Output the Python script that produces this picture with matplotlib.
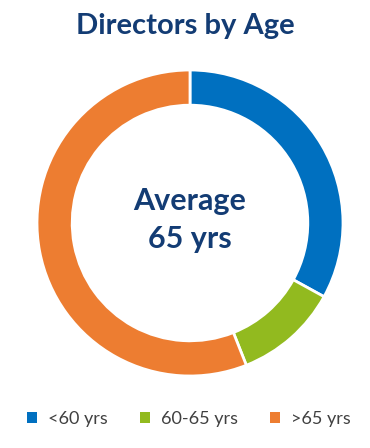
import matplotlib
matplotlib.use("Agg")
import matplotlib.pyplot as plt
from matplotlib.patches import Patch

labels = ["<60 yrs", "60-65 yrs", ">65 yrs"]
shares = [33, 11, 56]
colors = ["#0070C0", "#92BA1F", "#ED7D31"]
title = "Directors by Age"
center_text = "Average\n65 yrs"

plt.rcParams["font.family"] = ["Lato", "DejaVu Sans"]

fig = plt.figure(figsize=(3.7, 4.48), dpi=100)
ax = fig.add_axes([190/370 - 153/370, 1 - (223 + 153)/448, 306/370, 306/448])
ax.pie(shares, colors=colors, startangle=90, counterclock=False,
       wedgeprops=dict(width=0.23, edgecolor="white", linewidth=2))
ax.set_xlim(-1, 1)
ax.set_ylim(-1, 1)
ax.set_aspect("equal")
ax.text(0, 0.02, center_text, ha="center", va="center", fontsize=22,
        fontweight="bold", color="#133C74", linespacing=1.45)

fig.text(0.5, 1 - 26/448, title, ha="center", va="center", fontsize=21,
         fontweight="bold", color="#133C74")

handles = [Patch(facecolor=c, edgecolor="none") for c in colors]
fig.legend(handles, labels, loc="center", bbox_to_anchor=(0.51, 1 - 419/448),
           ncol=3, frameon=False, fontsize=13, handlelength=0.55, handleheight=0.55,
           columnspacing=1.8, handletextpad=0.6, labelcolor="#404040")

fig.savefig("out.png", dpi=100)
